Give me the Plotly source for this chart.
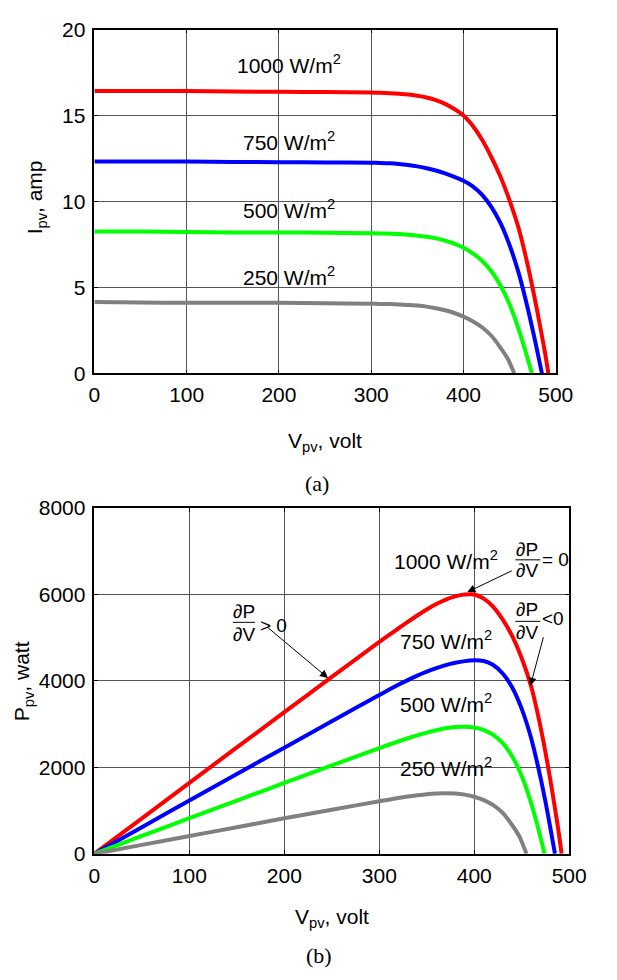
import plotly.graph_objects as go

W, H = 617, 980

# ---------------- data ----------------
irradiance_labels = ["1000 W/m<sup>2</sup>", "750 W/m<sup>2</sup>", "500 W/m<sup>2</sup>", "250 W/m<sup>2</sup>"]
colors = ["#ff0000", "#0000ff", "#00ff00", "#808080"]

# I-V curves
v_1000 = [0, 50, 100, 150, 200, 250, 300, 310, 320, 330, 340, 350, 360, 370, 380, 390, 400, 410, 420, 430, 440, 450, 460, 470, 480, 488, 492]
i_1000 = [16.42, 16.42, 16.42, 16.40, 16.38, 16.37, 16.34, 16.32, 16.29, 16.26, 16.22, 16.15, 16.05, 15.9, 15.68, 15.38, 15.0, 14.4, 13.6, 12.6, 11.45, 10.05, 8.4, 6.2, 3.6, 1.3, 0]
v_750 = [0, 50, 100, 150, 200, 250, 300, 310, 320, 330, 340, 350, 360, 370, 380, 390, 400, 410, 420, 430, 440, 450, 460, 470, 478, 485]
i_750 = [12.32, 12.32, 12.32, 12.30, 12.28, 12.27, 12.25, 12.24, 12.22, 12.18, 12.12, 12.04, 11.93, 11.8, 11.63, 11.43, 11.2, 10.88, 10.4, 9.7, 8.75, 7.45, 5.8, 3.7, 1.8, 0]
v_500 = [0, 50, 100, 150, 200, 250, 300, 310, 320, 330, 340, 350, 360, 370, 380, 390, 400, 410, 420, 430, 440, 450, 458, 466, 474]
i_500 = [8.25, 8.25, 8.22, 8.2, 8.2, 8.18, 8.15, 8.14, 8.12, 8.1, 8.06, 8.01, 7.94, 7.85, 7.72, 7.54, 7.3, 6.98, 6.55, 5.95, 5.12, 4.0, 2.85, 1.5, 0]
v_250 = [0, 50, 100, 150, 200, 250, 300, 310, 320, 330, 340, 350, 360, 370, 380, 390, 400, 410, 420, 430, 440, 448, 455]
i_250 = [4.15, 4.12, 4.1, 4.1, 4.1, 4.08, 4.05, 4.04, 4.03, 4.01, 3.98, 3.94, 3.88, 3.79, 3.67, 3.51, 3.3, 3.03, 2.68, 2.2, 1.5, 0.85, 0]

# P-V curves
pv_1000 = [0, 50, 100, 150, 200, 250, 300, 310, 320, 330, 340, 350, 360, 370, 380, 390, 400, 410, 420, 430, 440, 450, 460, 470, 480, 488, 492]
p_1000 = [0, 821, 1642, 2460, 3276, 4093, 4902, 5059, 5213, 5366, 5515, 5653, 5778, 5883, 5958, 5998, 6000, 5904, 5712, 5418, 5038, 4523, 3864, 2914, 1728, 634, 0]
pv_750 = [0, 50, 100, 150, 200, 250, 300, 310, 320, 330, 340, 350, 360, 370, 380, 390, 400, 410, 420, 430, 440, 450, 460, 470, 478, 485]
p_750 = [0, 616, 1232, 1845, 2456, 3068, 3675, 3794, 3910, 4019, 4121, 4214, 4295, 4366, 4419, 4458, 4480, 4461, 4368, 4171, 3850, 3353, 2668, 1739, 860, 0]
pv_500 = [0, 50, 100, 150, 200, 250, 300, 310, 320, 330, 340, 350, 360, 370, 380, 390, 400, 410, 420, 430, 440, 450, 458, 466, 474]
p_500 = [0, 412, 822, 1230, 1640, 2045, 2445, 2523, 2598, 2673, 2740, 2804, 2858, 2905, 2934, 2941, 2920, 2862, 2751, 2559, 2253, 1800, 1305, 699, 0]
pv_250 = [0, 50, 100, 150, 200, 250, 300, 310, 320, 330, 340, 350, 360, 370, 380, 390, 400, 410, 420, 430, 440, 448, 455]
p_250 = [0, 206, 410, 615, 820, 1020, 1215, 1252, 1290, 1323, 1353, 1379, 1397, 1402, 1395, 1369, 1320, 1242, 1126, 946, 660, 381, 0]

x_ticks = [0, 100, 200, 300, 400, 500]
i_ticks = [0, 5, 10, 15, 20]
p_ticks = [0, 2000, 4000, 6000, 8000]

iv_sets = [(v_1000, i_1000), (v_750, i_750), (v_500, i_500), (v_250, i_250)]
pv_sets = [(pv_1000, p_1000), (pv_750, p_750), (pv_500, p_500), (pv_250, p_250)]

# ---------------- figure ----------------
def px(x):
    return x / W

def py(y):
    return 1 - y / H

FONT = "Liberation Sans, Arial, sans-serif"
SERIF = "Liberation Serif, Times New Roman, serif"

fig = go.Figure()
for (v, i), c in zip(iv_sets, colors):
    fig.add_trace(go.Scatter(x=v, y=i, mode="lines",
                             line=dict(color=c, width=4, shape="spline", smoothing=0.6),
                             xaxis="x", yaxis="y", showlegend=False, hoverinfo="skip"))
for (v, p), c in zip(pv_sets, colors):
    fig.add_trace(go.Scatter(x=v, y=p, mode="lines",
                             line=dict(color=c, width=4, shape="spline", smoothing=0.6),
                             xaxis="x2", yaxis="y2", showlegend=False, hoverinfo="skip"))

axis_common = dict(showline=True, linecolor="black", linewidth=1.5, mirror="ticks",
                   showgrid=True, gridcolor="#555555", gridwidth=1,
                   ticks="inside", ticklen=4, tickcolor="black",
                   zeroline=False, tickfont=dict(family=FONT, size=21, color="black"))

fig.update_layout(
    width=W, height=H, margin=dict(l=0, r=0, t=0, b=0),
    paper_bgcolor="white", plot_bgcolor="white",
    xaxis=dict(domain=[px(92), px(572)], range=[0, 500], tickvals=x_ticks, anchor="y",
               ticklabelstandoff=2, **axis_common),
    yaxis=dict(domain=[py(370), py(18)], range=[0, 20], tickvals=i_ticks, anchor="x",
               ticklabelstandoff=3, **axis_common),
    xaxis2=dict(domain=[px(92), px(586)], range=[0, 500], tickvals=x_ticks, anchor="y2",
                ticklabelstandoff=2, **axis_common),
    yaxis2=dict(domain=[py(862), py(508)], range=[0, 8000], tickvals=p_ticks, anchor="x2",
                ticklabelstandoff=3, **axis_common),
)

ann = []
lfont = dict(family=FONT, size=21, color="black")
# curve labels, top plot
for lbl, yv in zip(irradiance_labels, [17.73, 13.24, 9.26, 5.4]):
    ann.append(dict(x=211, y=yv, xref="x", yref="y", text=lbl, showarrow=False, yshift=5,
                    xanchor="center", yanchor="middle", font=lfont))
# curve labels, bottom plot
for lbl, yv in zip(irradiance_labels, [6712, 4859, 3390, 1921]):
    ann.append(dict(x=370, y=yv, xref="x2", yref="y2", text=lbl, showarrow=False, yshift=4,
                    xanchor="center", yanchor="middle", font=lfont))

# axis titles
tfont = dict(family=FONT, size=21, color="black")
ann.append(dict(x=px(31), y=py(190), xref="paper", yref="paper", text="I<sub>pv</sub>, amp",
                textangle=-90, showarrow=False, xanchor="center", yanchor="middle", font=tfont))
ann.append(dict(x=px(332), y=py(440), xref="paper", yref="paper", text="V<sub>pv</sub>, volt",
                showarrow=False, xanchor="center", yanchor="middle", font=tfont))
ann.append(dict(x=px(18), y=py(685), xref="paper", yref="paper", text="P<sub>pv</sub>, watt",
                textangle=-90, showarrow=False, xanchor="center", yanchor="middle", font=tfont))
ann.append(dict(x=px(339), y=py(928), xref="paper", yref="paper", text="V<sub>pv</sub>, volt",
                showarrow=False, xanchor="center", yanchor="middle", font=tfont))
# sub-figure captions
cfont = dict(family=SERIF, size=22, color="black")
ann.append(dict(x=px(324), y=py(483), xref="paper", yref="paper", text="(a)",
                showarrow=False, xanchor="center", yanchor="middle", font=cfont))
ann.append(dict(x=px(326), y=py(966), xref="paper", yref="paper", text="(b)",
                showarrow=False, xanchor="center", yanchor="middle", font=cfont))

# derivative fractions
ffont = dict(family=FONT, size=19, color="black")
shapes = []

def fraction(cx, ytop, ybar, ybot, x0, x1, rel, rx, ry):
    ann.append(dict(x=px(cx), y=py(ytop), xref="paper", yref="paper", text="\u2202P",
                    showarrow=False, xanchor="center", yanchor="middle", font=ffont))
    ann.append(dict(x=px(cx), y=py(ybot), xref="paper", yref="paper", text="\u2202V",
                    showarrow=False, xanchor="center", yanchor="middle", font=ffont))
    ann.append(dict(x=px(rx), y=py(ry), xref="paper", yref="paper", text=rel,
                    showarrow=False, xanchor="left", yanchor="middle", font=ffont))
    shapes.append(dict(type="line", xref="paper", yref="paper", x0=px(x0), x1=px(x1),
                       y0=py(ybar), y1=py(ybar), line=dict(color="black", width=1)))

fraction(542.5, 550, 561, 572, 530, 556, "= 0", 556, 561)
fraction(542.5, 612, 624, 635, 530, 556, "<0", 556, 621)
fraction(247.5, 614, 625, 637, 236, 259, "> 0", 262, 628)

# arrows (head, tail) in pixels
def arrow(hx, hy, tx, ty):
    ann.append(dict(x=px(hx), y=py(hy), xref="paper", yref="paper", text="",
                    showarrow=True, ax=tx - hx, ay=ty - hy, axref="pixel", ayref="pixel",
                    arrowhead=2, arrowsize=1.6, arrowwidth=1, arrowcolor="black"))

arrow(480, 594, 526, 572)
arrow(545.6, 690, 559, 640)
arrow(335, 682, 273, 630)

fig.update_layout(annotations=ann, shapes=shapes)
fig.write_html("out.html")
